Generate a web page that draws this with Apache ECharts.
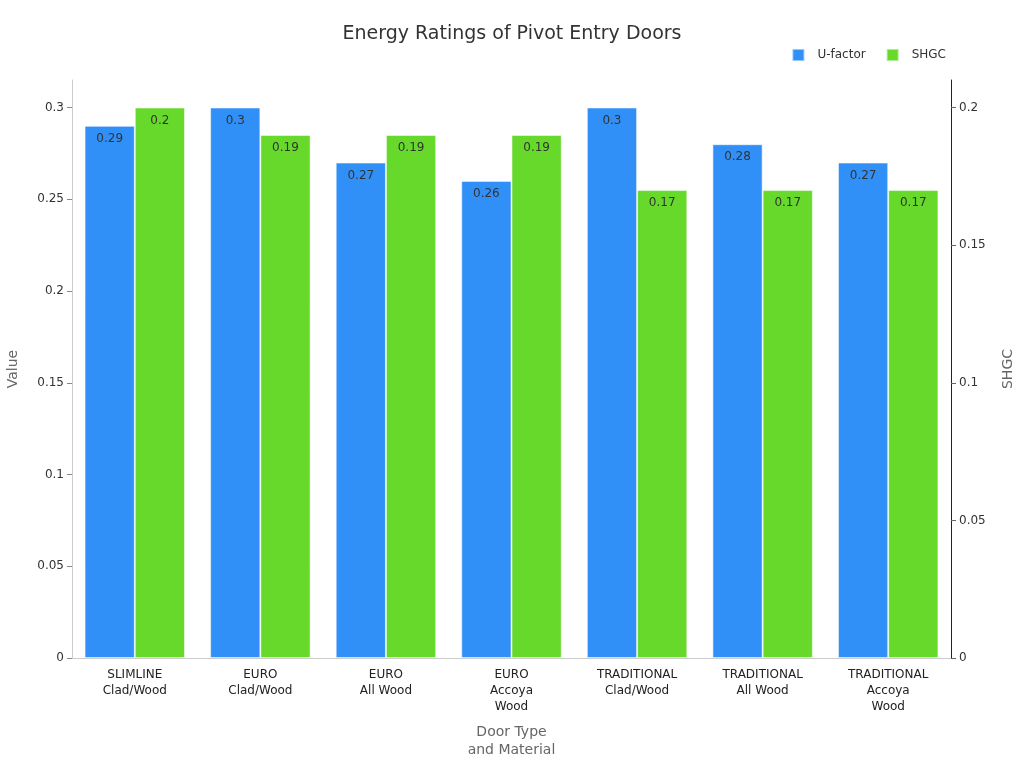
<!DOCTYPE html>
<html>
<head>
<meta charset="utf-8">
<script src="https://cdn.jsdelivr.net/npm/echarts@6/dist/echarts.min.js"></script>
<style>html,body{margin:0;padding:0;background:#fff}#c{width:1024px;height:768px}</style>
</head>
<body>
<div id="c"></div>
<script>
const categories = ["SLIMLINE\nClad/Wood","EURO\nClad/Wood","EURO\nAll Wood","EURO\nAccoya\nWood","TRADITIONAL\nClad/Wood","TRADITIONAL\nAll Wood","TRADITIONAL\nAccoya\nWood"];
const uFactor = [0.29, 0.3, 0.27, 0.26, 0.3, 0.28, 0.27];
const shgc = [0.2, 0.19, 0.19, 0.19, 0.17, 0.17, 0.17];

const chart = echarts.init(document.getElementById('c'));
const font = 'DejaVu Sans';
chart.setOption({
  textStyle: {fontFamily: font},
  title: {text: 'Energy Ratings of Pivot Entry Doors', left: 'center', top: 20,
    textStyle: {fontFamily: font, fontSize: 19, fontWeight: 'normal', color: '#333'}},
  legend: {right: 73, top: 43, icon: 'rect', itemWidth: 12, itemHeight: 12, itemGap: 20,
    textStyle: {fontFamily: font, fontSize: 12, color: '#333', padding: [0,0,0,8]},
    data: ['U-factor','SHGC']},
  grid: {left: 72, right: 73, top: 80, bottom: 110, containLabel: false, outerBoundsMode: 'none'},
  xAxis: {type: 'category', data: categories,
    name: 'Door Type\nand Material', nameLocation: 'middle', nameGap: 65,
    nameTextStyle: {fontFamily: font, fontSize: 14, color: '#666', lineHeight: 18},
    axisLine: {lineStyle: {color: '#ccc'}},
    axisTick: {alignWithLabel: true, lineStyle: {color: '#999'}},
    axisLabel: {fontFamily: font, fontSize: 12, color: '#222', lineHeight: 16, margin: 9, interval: 0}},
  yAxis: [
    {type: 'value', min: 0, max: 0.315, interval: 0.05, name: 'Value', nameLocation: 'middle', nameGap: 52,
      nameTextStyle: {fontFamily: font, fontSize: 14, color: '#666'},
      axisLine: {show: true, lineStyle: {color: '#ccc'}},
      axisTick: {show: true, lineStyle: {color: '#888'}},
      splitLine: {show: false},
      axisLabel: {fontFamily: font, fontSize: 12, color: '#333', showMaxLabel: false}},
    {type: 'value', min: 0, max: 0.21, interval: 0.05, name: 'SHGC', nameLocation: 'middle', nameGap: 50,
      nameTextStyle: {fontFamily: font, fontSize: 14, color: '#666'},
      axisLine: {show: true, lineStyle: {color: '#222'}},
      axisTick: {show: true, lineStyle: {color: '#666'}},
      splitLine: {show: false},
      axisLabel: {fontFamily: font, fontSize: 12, color: '#333', showMaxLabel: false}}
  ],
  series: [
    {name: 'U-factor', type: 'bar', data: uFactor, yAxisIndex: 0, barGap: '0%', barCategoryGap: '20%',
      itemStyle: {color: '#3190F8', borderColor: 'rgba(255,255,255,0.5)', borderWidth: 1},
      label: {show: true, position: 'insideTop', color: '#333', fontSize: 12, fontFamily: font, offset: [0, 2]}},
    {name: 'SHGC', type: 'bar', data: shgc, yAxisIndex: 1,
      itemStyle: {color: '#66D92A', borderColor: 'rgba(255,255,255,0.5)', borderWidth: 1},
      label: {show: true, position: 'insideTop', color: '#333', fontSize: 12, fontFamily: font, offset: [0, 2]}}
  ]
});
</script>
</body>
</html>
